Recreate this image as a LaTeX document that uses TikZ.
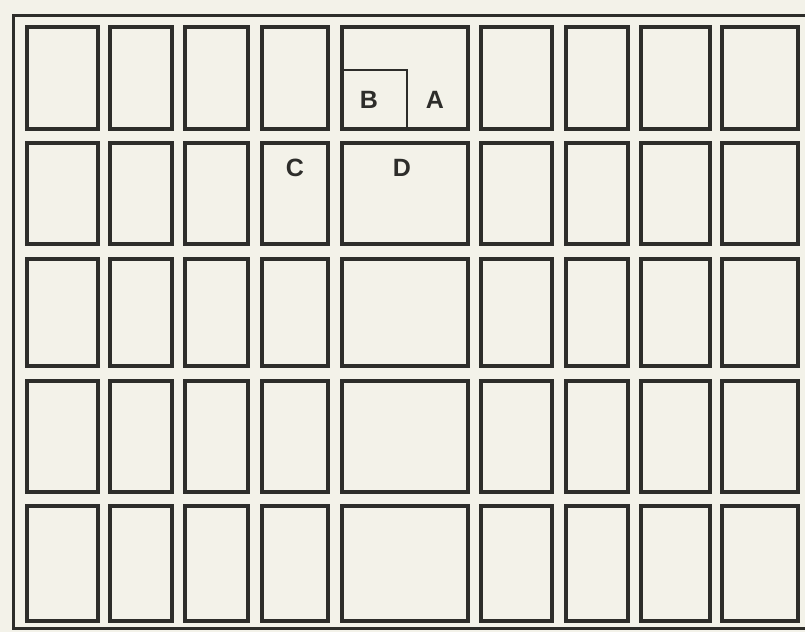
\documentclass[tikz,border=0pt]{standalone}
\usepackage{fontspec}
\setmainfont{Liberation Sans}
\definecolor{paper}{RGB}{243,242,233}
\definecolor{ink}{RGB}{45,45,42}
\begin{document}
\begin{tikzpicture}[x=1pt,y=-1pt,
  cell/.style={draw=ink, line width=3.4pt, fill=paper, rectangle, inner sep=0pt, outer sep=0pt},
  subcell/.style={draw=ink, line width=2pt, rectangle, inner sep=0pt, outer sep=0pt},
  lbl/.style={font=\bfseries\fontsize{25}{25}\selectfont, text=ink, inner sep=0pt},
  frame/.style={draw=ink, line width=3pt}]
\fill[paper] (0,0) rectangle (805,632);
\useasboundingbox (0,0) rectangle (805,632);
\coordinate (fTR) at (807,15);
\coordinate (fTL) at (13,15);
\coordinate (fBL) at (13,628);
\coordinate (fBR) at (807,628);
\draw[frame] (fTR) -- (fTL) -- (fBL) -- (fBR);
\foreach \ya/\yb [count=\r] in {27/129, 143/244, 259/366, 381/492, 506/621}{
  \foreach \xa/\xb [count=\c] in {27/98, 110/172, 185/248, 262/328, 342/468, 481/552, 566/628, 641/710, 722/798}{
    \node[cell, minimum width={\xb-\xa}, minimum height={\yb-\ya}] (c-\r-\c) at ({(\xa+\xb)/2},{(\ya+\yb)/2}) {};
  }
}
\node[subcell, minimum width=65, minimum height=59, anchor=south west] (bbox) at (c-1-5.south west) {};
\node[lbl] (B) at (369,100) {B};
\node[lbl] (A) at (435,100) {A};
\node[lbl] (D) at (402,168) {D};
\node[lbl] (C) at (295,168) {C};
\end{tikzpicture}
\end{document}
